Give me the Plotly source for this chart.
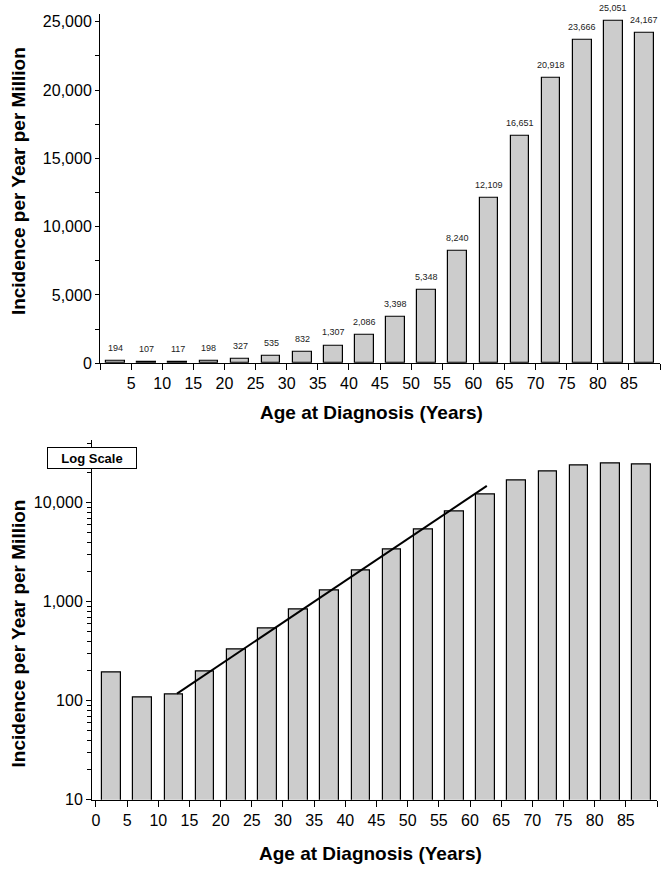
import plotly.graph_objects as go

# ---- data ----
age_mid = [2.5, 7.5, 12.5, 17.5, 22.5, 27.5, 32.5, 37.5, 42.5, 47.5,
           52.5, 57.5, 62.5, 67.5, 72.5, 77.5, 82.5, 87.5]
incidence = [194, 107, 117, 198, 327, 535, 832, 1307, 2086, 3398,
             5348, 8240, 12109, 16651, 20918, 23666, 25051, 24167]
trend_ages = [13.0, 62.7]
trend_values = [118, 14800]

x_tickvals = list(range(0, 95, 5))
top_x_ticktext = [""] + [str(v) for v in range(5, 90, 5)] + [""]
bot_x_ticktext = [str(v) for v in range(0, 90, 5)] + [""]
top_y_tickvals = [0, 5000, 10000, 15000, 20000, 25000]
top_y_ticktext = ["0", "5,000", "10,000", "15,000", "20,000", "25,000"]
top_y_minor = [2500, 7500, 12500, 17500, 22500]
log_y_tickvals = [10, 100, 1000, 10000]
log_y_ticktext = ["10", "100", "1,000", "10,000"]
log_y_minor = [m * d for d in (10, 100, 1000) for m in range(2, 10)] + [20000, 40000]

W, H = 665, 874
FONT = "Arial, Liberation Sans, Helvetica, sans-serif"
BAR_FILL = "#cccccc"

def px_x(p):
    return p / W

def px_y(p):
    return (H - p) / H

fig = go.Figure()

fig.add_trace(go.Bar(
    x=age_mid, y=incidence, width=3, xaxis="x", yaxis="y",
    marker=dict(color=BAR_FILL, line=dict(color="black", width=1.2)),
    showlegend=False, hoverinfo="x+y"))

fig.add_trace(go.Bar(
    x=age_mid, y=incidence, width=3, xaxis="x2", yaxis="y2",
    marker=dict(color=BAR_FILL, line=dict(color="black", width=1.2)),
    showlegend=False, hoverinfo="x+y"))

fig.add_trace(go.Scatter(
    x=trend_ages, y=trend_values, mode="lines", xaxis="x2", yaxis="y2",
    line=dict(color="black", width=2), showlegend=False, hoverinfo="skip"))

annotations = []
for a, v in zip(age_mid, incidence):
    annotations.append(dict(
        x=a, y=v, xref="x", yref="y", text=f"{v:,}", showarrow=False,
        yanchor="bottom", yshift=6, font=dict(size=9, color="#222", family=FONT)))

axis_common = dict(showline=True, linecolor="black", linewidth=1, showgrid=False,
                   zeroline=False, ticks="outside", tickcolor="black",
                   tickfont=dict(size=16, color="black", family=FONT))

fig.update_layout(
    width=W, height=H, margin=dict(l=0, r=0, t=0, b=0),
    paper_bgcolor="white", plot_bgcolor="white", bargap=0,
    font=dict(family=FONT, color="black"),
    xaxis=dict(domain=[px_x(100), px_x(660)], range=[0, 90], anchor="y",
               tickmode="array", tickvals=x_tickvals, ticktext=top_x_ticktext,
               ticklen=6, **axis_common),
    yaxis=dict(domain=[px_y(367), px_y(14)], range=[0, 25580], anchor="x",
               tickmode="array", tickvals=top_y_tickvals, ticktext=top_y_ticktext,
               ticklen=4,
               minor=dict(tickmode="array", tickvals=top_y_minor, ticks="outside",
                          ticklen=4, tickcolor="black"),
               **axis_common),
    xaxis2=dict(domain=[px_x(92), px_x(657)], range=[-0.64, 90], anchor="y2",
                tickmode="array", tickvals=x_tickvals, ticktext=bot_x_ticktext,
                ticklen=6, **axis_common),
    yaxis2=dict(type="log", domain=[px_y(808), px_y(445)], range=[1, 4.63], anchor="x2",
                tickmode="array", tickvals=log_y_tickvals, ticktext=log_y_ticktext,
                ticklen=5,
                minor=dict(tickmode="array", tickvals=log_y_minor, ticks="outside",
                           ticklen=4, tickcolor="black"),
                **axis_common),
)

title_font = dict(size=19, color="black", family=FONT)
annotations += [
    dict(text="<b>Age at Diagnosis (Years)</b>", x=px_x(372), y=px_y(417),
         xref="paper", yref="paper", showarrow=False, font=title_font,
         xanchor="center", yanchor="middle"),
    dict(text="<b>Age at Diagnosis (Years)</b>", x=px_x(370), y=px_y(862),
         xref="paper", yref="paper", showarrow=False, font=title_font,
         xanchor="center", yanchor="middle"),
    dict(text="<b>Incidence per Year per Million</b>", x=px_x(18), y=px_y(183),
         xref="paper", yref="paper", showarrow=False, font=title_font, textangle=-90,
         xanchor="center", yanchor="middle"),
    dict(text="<b>Incidence per Year per Million</b>", x=px_x(18), y=px_y(640),
         xref="paper", yref="paper", showarrow=False, font=title_font, textangle=-90,
         xanchor="center", yanchor="middle"),
    dict(text="<b>Log Scale</b>", x=px_x(92), y=px_y(463), xref="paper", yref="paper",
         showarrow=False, font=dict(size=13, color="black", family=FONT),
         bgcolor="white", bordercolor="black", borderwidth=1, borderpad=0,
         width=88, height=20, xanchor="center", yanchor="middle"),
]
fig.update_layout(annotations=annotations)

fig.write_html("out.html")
